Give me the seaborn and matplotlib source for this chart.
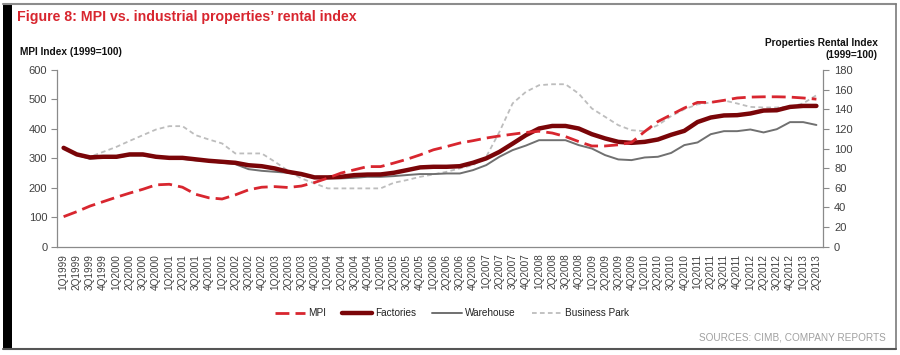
import numpy as np
import pandas as pd
import matplotlib
matplotlib.use("Agg")
import matplotlib.pyplot as plt
from matplotlib.lines import Line2D
from matplotlib.patches import Rectangle
import seaborn as sns

# ---------------- data ----------------
quarters = [f"{q}Q{y}" for y in range(1999, 2014) for q in range(1, 5)][:58]

mpi = [102, 119, 138, 153, 168, 182, 195, 210, 212, 202, 178, 166,
       162, 176, 193, 202, 204, 201, 206, 218, 233, 250, 261, 272,
       272, 284, 297, 312, 329, 340, 352, 360, 369, 376, 382, 388,
       392, 386, 374, 357, 342, 342, 346, 354, 391, 425, 448, 471,
       490, 490, 497, 505, 508, 509, 509, 508, 505, 501]

factories = [100.7, 94, 91, 91.6, 91.6, 94, 94, 91.6, 90.5, 90.5, 89, 87.5,
             86.5, 85.5, 83, 82, 79.7, 76.3, 74, 70.6, 70.6, 71.2, 72.9, 73.5,
             73.6, 75.3, 78, 80.8, 81.4, 81.4, 82, 85.5, 90, 96.6, 105, 113.6,
             120.4, 123, 123, 120.4, 114.6, 110.3, 106.8, 105.8, 106.8, 109.2, 114, 118,
             127, 131.6, 133.7, 134, 135.7, 138.7, 139, 142.4, 143.4, 143.4]

warehouse = [100.7, 93.5, 89.5, 91, 91, 93, 93, 91, 90, 89.5, 88, 87.2,
             85.5, 84.1, 79, 77.3, 76.3, 75.3, 72.9, 70.2, 69.6, 69.6, 70.2, 71.2,
             71.2, 71.9, 73, 74, 74, 74.6, 74.6, 78, 83.1, 91.6, 98.4, 103,
             108.5, 108.5, 108.5, 103.5, 100, 93.3, 88.9, 88.2, 90.9, 91.6, 95.5, 103.5,
             106.2, 114.6, 117.7, 117.7, 119.4, 116.4, 119.7, 126.9, 126.9, 124]

business_park = [100.7, 95, 91.6, 96.6, 101.7, 107.8, 113.6, 119.4, 122.8, 122.8, 113.6, 109.2,
                 105.2, 95, 95, 95, 86.5, 77.3, 69.6, 64.5, 59.4, 59.4, 59.4, 59.4,
                 59.4, 65.1, 67.9, 71.2, 73.6, 76.3, 79.8, 83.1, 91.6, 117, 146, 157.7,
                 164.5, 165.5, 165.5, 156, 140.8, 132.3, 123.8, 118.7, 117.7, 123.8, 133, 140,
                 145, 146.9, 149, 145.9, 142.4, 141.8, 141.8, 142.4, 146, 154.3]

series_names = ["MPI", "Factories", "Warehouse", "Business Park"]
left_ticks = [0, 100, 200, 300, 400, 500, 600]
right_ticks = [0, 20, 40, 60, 80, 100, 120, 140, 160, 180]

df = pd.DataFrame({
    "idx": np.arange(len(quarters)),
    "quarter": quarters,
    "MPI": mpi,
    "Factories": factories,
    "Warehouse": warehouse,
    "Business Park": business_park,
})

# ---------------- style ----------------
sns.set_style("white")
plt.rcParams["font.family"] = ["Liberation Sans", "DejaVu Sans"]

C_MPI = "#d8262f"
C_FAC = "#7a0508"
C_WH = "#707070"
C_BP = "#bdbdbd"
C_TICK = "#404040"
C_SPINE = "#8a8a8a"

styles = {
    "MPI": dict(color=C_MPI, linewidth=2.0, linestyle=(0, (5.0, 2.2))),
    "Factories": dict(color=C_FAC, linewidth=3.2, linestyle="-"),
    "Warehouse": dict(color=C_WH, linewidth=1.4, linestyle="-"),
    "Business Park": dict(color=C_BP, linewidth=1.3, linestyle=(0, (2.6, 1.8))),
}

fig = plt.figure(figsize=(9, 3.55), dpi=100)
ax = fig.add_axes([57 / 900, 108.3 / 355, (823 - 57) / 900, (246.7 - 70) / 355])
ax2 = ax.twinx()

for name in ["Business Park", "Warehouse", "Factories"]:
    sns.lineplot(data=df, x="idx", y=name, ax=ax2, legend=False,
                 errorbar=None, **styles[name])
sns.lineplot(data=df, x="idx", y="MPI", ax=ax, legend=False,
             errorbar=None, **styles["MPI"])

ax.set_zorder(ax2.get_zorder() + 1)
ax.patch.set_visible(False)

n = len(quarters)
for a in (ax, ax2):
    a.set_xlim(-0.5, n - 0.5)
    a.set_xlabel("")
    a.set_ylabel("")
    a.grid(False)

ax.set_ylim(0, 600)
ax.set_yticks(left_ticks)
ax.set_yticklabels([str(v) for v in left_ticks])
ax2.set_ylim(0, 180)
ax2.set_yticks(right_ticks)
ax2.set_yticklabels([str(v) for v in right_ticks])

ax.set_xticks(np.arange(n))
ax.set_xticklabels(quarters, rotation=90, fontsize=7.2, color=C_TICK)
ax.set_xticks(np.arange(n + 1) - 0.5, minor=True)
ax.tick_params(axis="x", which="major", length=0, pad=5)
ax.tick_params(axis="x", which="minor", length=3, width=0.8, color=C_SPINE, direction="out")
ax.tick_params(axis="y", length=4, width=0.8, color=C_SPINE, labelsize=8,
               labelcolor=C_TICK, pad=3, direction="out")
ax2.tick_params(axis="y", length=4, width=0.8, color=C_SPINE, labelsize=8,
                labelcolor=C_TICK, pad=4, direction="out")
ax2.tick_params(axis="x", length=0)

for s in ["top", "right"]:
    ax.spines[s].set_visible(False)
for s in ["top", "left", "bottom"]:
    ax2.spines[s].set_visible(False)
for s in ["left", "bottom"]:
    ax.spines[s].set_color(C_SPINE)
    ax.spines[s].set_linewidth(0.9)
ax2.spines["right"].set_color(C_SPINE)
ax2.spines["right"].set_linewidth(0.9)

# ---------------- texts ----------------
fig.text(17 / 900, 1 - 17.5 / 355, "Figure 8: MPI vs. industrial properties\u2019 rental index",
         color=C_MPI, fontsize=10.2, fontweight="bold", ha="left", va="center")
fig.text(20 / 900, 1 - 52 / 355, "MPI Index (1999=100)", fontsize=7.3,
         fontweight="bold", color="#111111", ha="left", va="center")
fig.text(821 / 900, 1 - 49 / 355, "Properties Rental Index\n(1999=100)", fontsize=7.3,
         fontweight="bold", color="#111111", ha="center", va="center",
         linespacing=1.35, multialignment="right")
fig.text(886 / 900, 1 - 337.5 / 355, "SOURCES: CIMB, COMPANY REPORTS", fontsize=7.2,
         color="#a0a0a0", ha="right", va="center")

handles = [Line2D([0], [0], **styles[nm]) for nm in series_names]
fig.legend(handles, series_names, loc="center", bbox_to_anchor=(452 / 900, 1 - 313 / 355),
           ncol=4, frameon=False, fontsize=7.2, handlelength=3.0, columnspacing=1.6,
           handletextpad=0.3, labelcolor="#222222")

# ---------------- frame ----------------
H = 355.0
W = 900.0
fig.add_artist(Rectangle((3 / W, 1 - 350 / H), 9 / W, 347 / H, transform=fig.transFigure,
                         facecolor="black", edgecolor="none"))
fig.add_artist(Line2D([3 / W, 896 / W], [1 - 3.5 / H, 1 - 3.5 / H], transform=fig.transFigure,
                      color="#8c8c8c", linewidth=1.5))
fig.add_artist(Line2D([895.5 / W, 895.5 / W], [1 - 3.5 / H, 1 - 348.5 / H], transform=fig.transFigure,
                      color="#7a7a7a", linewidth=1.2))
fig.add_artist(Line2D([3 / W, 896 / W], [1 - 348.5 / H, 1 - 348.5 / H], transform=fig.transFigure,
                      color="#555555", linewidth=1.5))

fig.savefig("out.png", dpi=100)
